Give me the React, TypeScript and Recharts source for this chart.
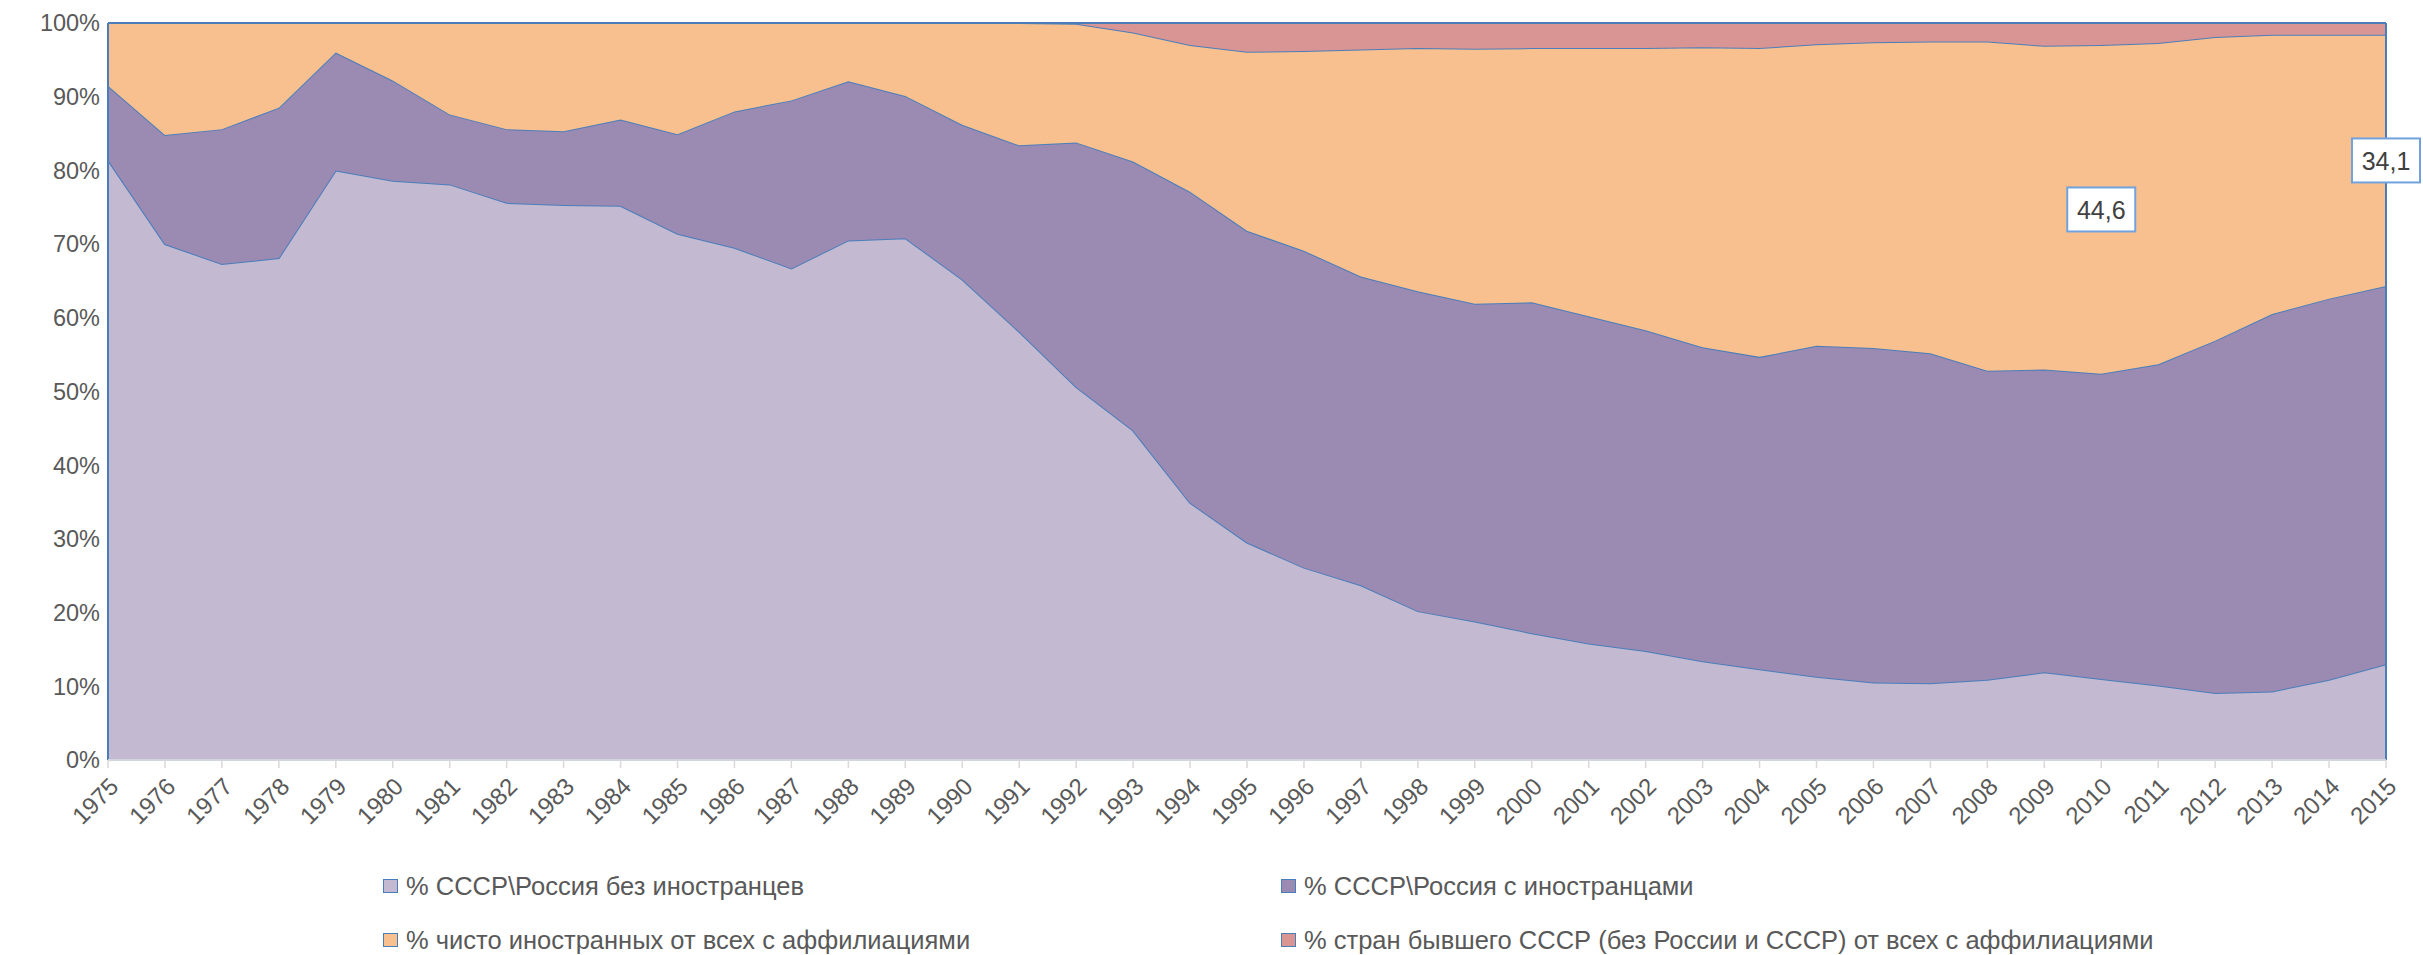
import { AreaChart, Area, XAxis, YAxis, ReferenceLine, ReferenceDot, Legend } from 'recharts';

const years = [
  '1975', '1976', '1977', '1978', '1979', '1980', '1981', '1982', '1983', '1984',
  '1985', '1986', '1987', '1988', '1989', '1990', '1991', '1992', '1993', '1994',
  '1995', '1996', '1997', '1998', '1999', '2000', '2001', '2002', '2003', '2004',
  '2005', '2006', '2007', '2008', '2009', '2010', '2011', '2012', '2013', '2014', '2015',
];

// % СССР\Россия без иностранцев
const noForeign = [
  81.4, 70.0, 67.3, 68.1, 80.0, 78.6, 78.1, 75.6, 75.3, 75.2,
  71.4, 69.5, 66.7, 70.5, 70.8, 65.2, 58.1, 50.6, 44.7, 34.9,
  29.5, 26.1, 23.7, 20.2, 18.8, 17.2, 15.8, 14.8, 13.4, 12.3,
  11.3, 10.5, 10.4, 10.9, 11.9, 11.0, 10.1, 9.1, 9.3, 10.9, 13.0,
];

// % СССР\Россия с иностранцами
const withForeign = [
  10.1, 14.8, 18.3, 20.4, 16.0, 13.6, 9.5, 10.0, 10.0, 11.7,
  13.5, 18.5, 22.8, 21.6, 19.3, 21.0, 25.3, 33.2, 36.5, 42.2,
  42.3, 43.0, 41.9, 43.4, 43.1, 44.9, 44.4, 43.5, 42.6, 42.4,
  44.9, 45.4, 44.8, 41.9, 41.1, 41.4, 43.6, 47.8, 51.2, 51.7, 51.3,
];

// % чисто иностранных
const pureForeign = [
  8.5, 15.2, 14.4, 11.5, 4.0, 7.8, 12.4, 14.4, 14.7, 13.1,
  15.1, 12.0, 10.5, 7.9, 9.9, 13.8, 16.6, 16.1, 17.5, 19.9,
  24.3, 27.1, 30.8, 33.0, 34.6, 34.5, 36.4, 38.3, 40.7, 41.9,
  40.9, 41.5, 42.3, 44.7, 43.9, 44.6, 43.6, 41.2, 37.9, 35.8, 34.1,
];

// % стран бывшего СССР
const exUssr = [
  0, 0, 0, 0, 0, 0, 0, 0, 0, 0,
  0, 0, 0, 0, 0, 0, 0, 0.1, 1.3, 3.0,
  3.9, 3.8, 3.6, 3.4, 3.5, 3.4, 3.4, 3.4, 3.3, 3.4,
  2.9, 2.6, 2.5, 2.5, 3.1, 3.0, 2.7, 1.9, 1.6, 1.6, 1.6,
];

const seriesNames = [
  '% СССР\\Россия без иностранцев',
  '% СССР\\Россия с иностранцами',
  '% чисто иностранных от всех с аффилиациями',
  '% стран бывшего СССР (без России и СССР) от всех с аффилиациями',
];
const seriesKeys = ['s1', 's2', 's3', 's4'];
const seriesColors = ['#C3B9D0', '#9B8AB2', '#F9C08F', '#D99594'];

const yTicks = [0, 0.1, 0.2, 0.3, 0.4, 0.5, 0.6, 0.7, 0.8, 0.9, 1];
const labelledYears = ['2010', '2015'];

const data = years.map((year, i) => ({
  year,
  s1: noForeign[i],
  s2: withForeign[i],
  s3: pureForeign[i],
  s4: exUssr[i],
}));

const FONT = "'Liberation Sans', Arial, sans-serif";
const OUTLINE = '#4A7EBB';

const legendPos = [
  { left: 383, top: 31 },
  { left: 1281, top: 31 },
  { left: 383, top: 85 },
  { left: 1281, top: 85 },
];

function ChartLegend() {
  return (
    <div style={{ position: 'relative', height: 110, width: 2423, fontFamily: FONT }}>
      {seriesNames.map((name, i) => (
        <div
          key={name}
          style={{
            position: 'absolute',
            left: legendPos[i].left,
            top: legendPos[i].top,
            height: 30,
            display: 'flex',
            alignItems: 'center',
            whiteSpace: 'nowrap',
          }}
        >
          <span
            style={{
              display: 'inline-block',
              width: 13,
              height: 12,
              background: seriesColors[i],
              border: `1.5px solid ${OUTLINE}`,
              marginRight: 8,
            }}
          />
          <span style={{ fontSize: 25.5, color: '#595959' }}>{name}</span>
        </div>
      ))}
    </div>
  );
}

function ValueBox(props: any) {
  const { cx, cy, text } = props;
  if (cx == null || cy == null) return null;
  const w = 68;
  const h = 44;
  return (
    <g>
      <rect x={cx - w / 2} y={cy - h / 2} width={w} height={h} fill="#fff" stroke="#72A2DC" strokeWidth={2} />
      <text x={cx} y={cy + 1} textAnchor="middle" dominantBaseline="central" fontSize={25} fontFamily={FONT} fill="#404040">
        {text}
      </text>
    </g>
  );
}

export default function App() {
  return (
    <div style={{ position: 'absolute', left: 0, top: 0, width: 2423, height: 955, background: '#fff' }}>
      <AreaChart
        width={2423}
        height={955}
        data={data}
        stackOffset="expand"
        margin={{ top: 23, right: 37, left: 0, bottom: 5 }}
      >
        <XAxis
          dataKey="year"
          height={80}
          interval={0}
          tickSize={8}
          tickMargin={8}
          stroke="#D9D9D9"
          tickLine={{ stroke: '#D9D9D9', strokeWidth: 1.5 }}
          axisLine={{ stroke: '#D0D5E0', strokeWidth: 2 }}
          angle={-45}
          textAnchor="end"
          tick={{ fill: '#595959', fontSize: 24, fontFamily: FONT }}
        />
        <YAxis
          width={108}
          ticks={yTicks}
          domain={[0, 1]}
          axisLine={false}
          tickLine={false}
          tickSize={6}
          tickMargin={2}
          tickFormatter={(v: number) => `${Math.round(v * 100)}%`}
          tick={{ fill: '#595959', fontSize: 23.5, fontFamily: FONT }}
        />
        {seriesKeys.map((key, i) => (
          <Area
            key={key}
            type="linear"
            dataKey={key}
            name={seriesNames[i]}
            stackId="1"
            fill={seriesColors[i]}
            fillOpacity={1}
            stroke={OUTLINE}
            strokeWidth={2}
            isAnimationActive={false}
          />
        ))}
        <ReferenceLine x={years[0]} stroke={OUTLINE} strokeWidth={2} />
        <ReferenceLine x={years[years.length - 1]} stroke={OUTLINE} strokeWidth={2} />
        {labelledYears.map((yr) => {
          const i = years.indexOf(yr);
          const total = noForeign[i] + withForeign[i] + pureForeign[i] + exUssr[i];
          const mid = (noForeign[i] + withForeign[i] + pureForeign[i] / 2) / total;
          const text = pureForeign[i].toFixed(1).replace('.', ',');
          return (
            <ReferenceDot
              key={yr}
              x={yr}
              y={mid}
              ifOverflow="visible"
              shape={(p: any) => <ValueBox {...p} text={text} />}
            />
          );
        })}
        <Legend verticalAlign="bottom" content={() => <ChartLegend />} wrapperStyle={{ left: 0, width: 2423 }} />
      </AreaChart>
    </div>
  );
}
